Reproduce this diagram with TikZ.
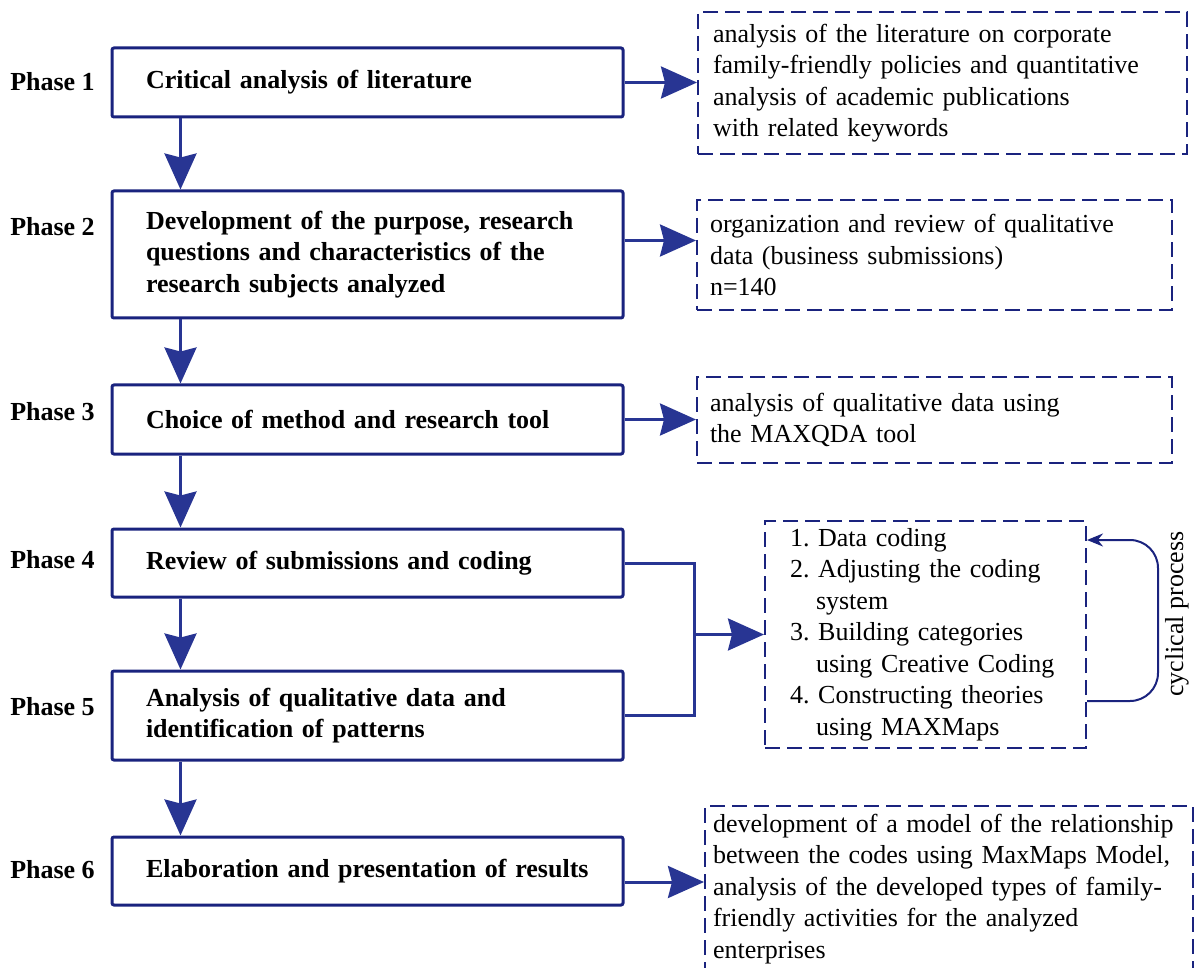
\documentclass[tikz,border=0pt]{standalone}
\usepackage{fontspec}
\setmainfont{Liberation Serif}
\usepackage{tikz}
\usetikzlibrary{arrows.meta, positioning, calc}

\definecolor{boxblue}{RGB}{26,35,126}
\definecolor{arrowblue}{RGB}{40,53,147}
\newcommand{\figfont}{\fontsize{13pt}{15.75pt}\selectfont}

\tikzset{
  phasebox/.style={draw=boxblue, line width=1.5pt, rounded corners=1pt, fill=white,
    minimum width=255.5pt, text width=221.5pt, inner xsep=17pt, align=left,
    font=\figfont\bfseries},
  phaselabel/.style={font=\figfont\bfseries},
  notebox/.style={draw=boxblue, line width=1pt, dash pattern=on 7.5pt off 3.5pt,
    align=left, font=\figfont},
  flow/.style={draw=arrowblue, line width=1.5pt, -{Stealth[length=18pt, width=16pt, inset=2pt]}},
  joinline/.style={draw=arrowblue, line width=1.5pt},
  cycarrow/.style={draw=boxblue, line width=1pt, rounded corners=14pt,
    -{Stealth[length=8pt, width=6.5pt]}}
}

\begin{document}
\begin{tikzpicture}[x=0.5pt, y=-0.5pt]
  \useasboundingbox (0,0) rectangle (1195,968);

  % phases
  \node[phaselabel] (l1) at (52.5,82) {Phase 1};
  \node[phaselabel] (l2) at (52.5,227) {Phase 2};
  \node[phaselabel] (l3) at (52.5,412) {Phase 3};
  \node[phaselabel] (l4) at (52.5,560) {Phase 4};
  \node[phaselabel] (l5) at (52.5,707) {Phase 5};
  \node[phaselabel] (l6) at (52.5,870) {Phase 6};

  \node[phasebox, minimum height=34.5pt] (p1) at (367.5,82.5) {Critical analysis of literature};
  \node[phasebox, minimum height=63.5pt] (p2) at (367.5,254.5)
    {Development of the purpose, research\\questions and characteristics of the\\research subjects analyzed};
  \node[phasebox, minimum height=34.5pt] (p3) at (367.5,419.5) {Choice of method and research tool};
  \node[phasebox, minimum height=34pt] (p4) at (367.5,563) {Review of submissions and coding};
  \node[phasebox, minimum height=44.5pt] (p5) at (367.5,715.5)
    {Analysis of qualitative data and\\identification of patterns};
  \node[phasebox, minimum height=34pt] (p6) at (367.5,871) {Elaboration and presentation of results};

  % outcomes
  \node[notebox, text width=229.5pt, inner xsep=7.5pt, minimum height=71pt] (d1) at (942.5,83)
    {analysis of the literature on corporate\\family-friendly policies and quantitative\\analysis of academic publications\\with related keywords};
  \node[notebox, text width=224.5pt, inner xsep=6.5pt, minimum height=55pt] (d2) at (934.5,255)
    {organization and review of qualitative\\data (business submissions)\\n=140};
  \node[notebox, text width=224.5pt, inner xsep=6.5pt, minimum height=43pt] (d3) at (934.5,420)
    {analysis of qualitative data using\\the MAXQDA tool};
  \node[notebox, text width=135.5pt, inner xsep=12.5pt, minimum height=113.5pt] (d4) at (925.5,634.5)
    {1.~Data coding\\2.~Adjusting the coding\\\hspace*{13pt}system\\3.~Building categories\\\hspace*{13pt}using Creative Coding\\4.~Constructing theories\\\hspace*{13pt}using MAXMaps};
  \node[notebox, text width=236pt, inner xsep=4pt, inner ysep=4pt, anchor=north west] (d5) at (704,805)
    {development of a model of the relationship\\between the codes using MaxMaps Model,\\analysis of the developed types of family-\\friendly activities for the analyzed\\enterprises};

  % flow down
  \foreach \a/\b in {p1/p2, p2/p3, p3/p4, p4/p5, p5/p6}
    \draw[flow] ([xshift=35pt]\a.south west) -- ([xshift=35pt]\b.north west);

  % flow right
  \draw[flow] (p1.east) -- (p1.east -| d1.west);
  \draw[flow] ([yshift=7pt]p2.east) -- ([yshift=7pt]p2.east -| d2.west);
  \draw[flow] (p3.east) -- (p3.east -| d3.west);
  \draw[flow] ([yshift=-5.5pt]p6.east) -- ([yshift=-5.5pt]p6.east -| d5.west);

  % phases 4 and 5 joined
  \coordinate (join) at (694,634.5);
  \draw[joinline] (p4.east) -| (join) |- (p5.east);
  \draw[flow] (join) -- (d4.west);

  % cycle
  \draw[cycarrow] ([yshift=-33.25pt]d4.east) -- ([xshift=35.5pt,yshift=-33.25pt]d4.east)
    -- ([xshift=35.5pt,yshift=47.25pt]d4.east) -- ([yshift=47.25pt]d4.east);
  \node[rotate=90, font=\figfont] (cyc) at (1177,614) {cyclical process};
\end{tikzpicture}
\end{document}
